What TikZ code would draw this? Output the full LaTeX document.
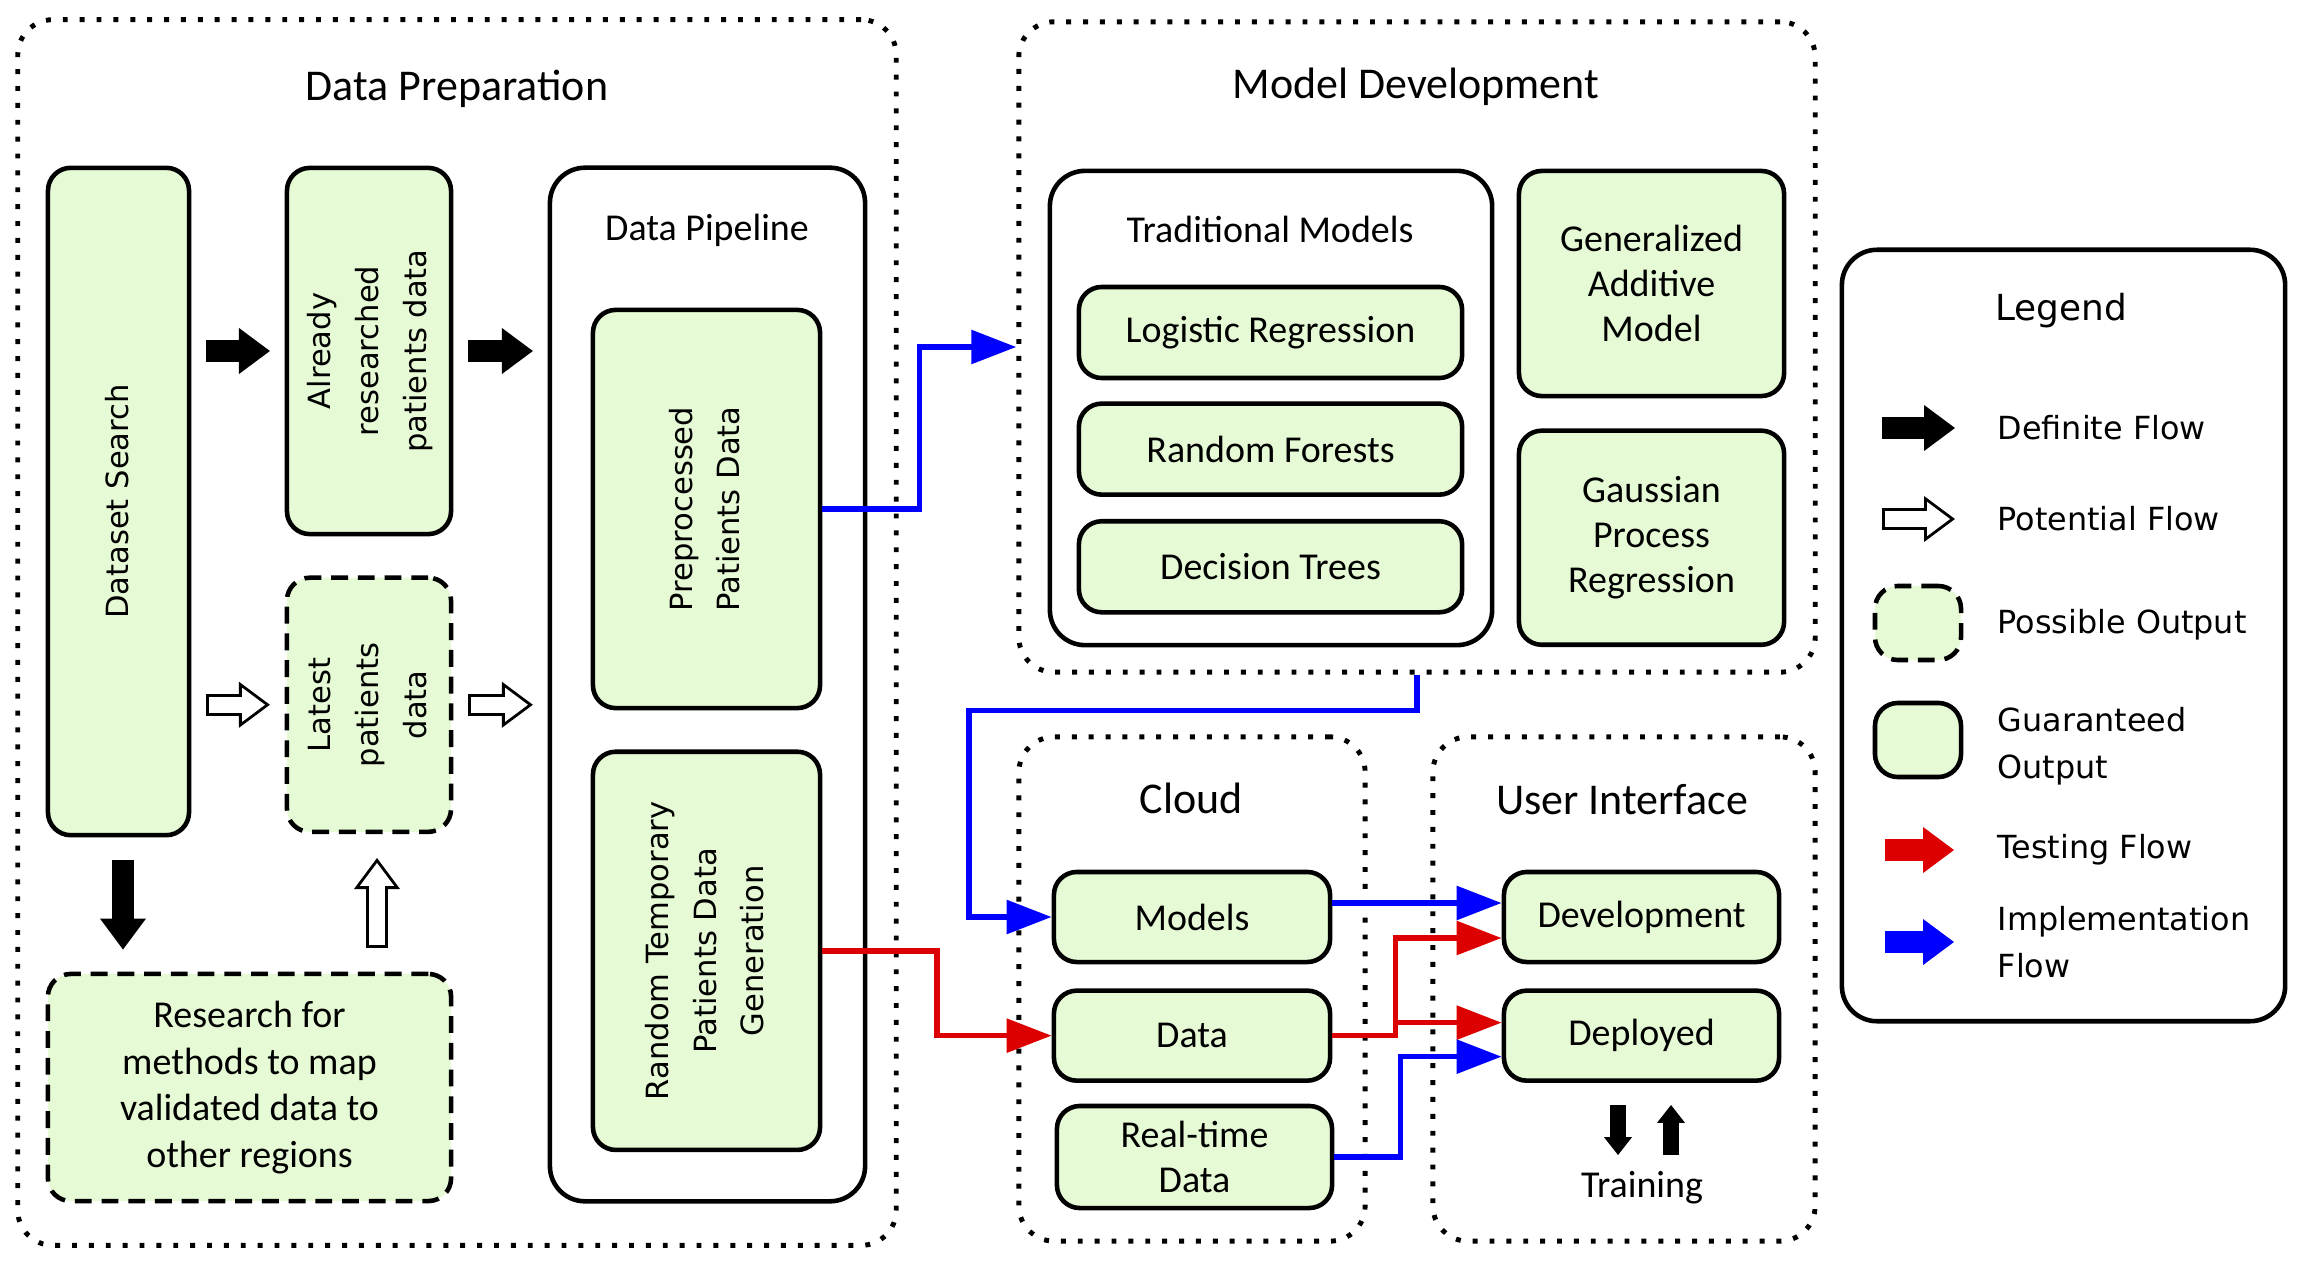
\documentclass[tikz,border=0pt]{standalone}
\usepackage{fontspec}
\setmainfont{Carlito}
\newfontfamily\legfont{DejaVu Sans}
\usetikzlibrary{arrows.meta,positioning,calc}
\definecolor{ogreen}{HTML}{E5FAD5}
\definecolor{oblue}{HTML}{0000FF}
\definecolor{ored}{HTML}{DD0000}
\newcommand\boxfont{\fontsize{10.8}{12.8}\selectfont}
\newcommand\rottext[1]{\rotatebox{90}{\legfont\fontsize{8.7}{13.6}\selectfont\begin{tabular}{@{}c@{}}#1\end{tabular}}}
\tikzset{
  gbox/.style={rounded corners=6.5pt,draw=black,line width=1.3pt,fill=ogreen,align=center,inner sep=2pt,font=\boxfont},
  pbox/.style={gbox,dash pattern=on 4.8pt off 2.8pt},
  wbox/.style={gbox,fill=white,rounded corners=10pt},
  grp/.style={rounded corners=10pt,draw=black,line width=1.4pt,dash pattern=on 1.4pt off 3.4pt},
  ttl/.style={font=\fontsize{12.5}{15}\selectfont},
  legtxt/.style={font=\legfont\fontsize{9.05}{13.4}\selectfont,anchor=west,inner sep=0pt,align=left},
  implar/.style={draw=oblue,line width=1.6pt,-{Triangle[length=12.8pt,width=9.4pt]}},
  testar/.style={implar,draw=ored},
  flowdef/.style={line width=6.3pt,-{Triangle[length=8.8pt,width=13.1pt,line width=0pt]},shorten <=#1,shorten >=#1},
  flowdef/.default=4.2pt,
  flowpot/.style={draw=white,line width=4.5pt,-{Triangle[length=6.5pt,width=9.7pt,line width=0pt]},shorten <=#1+0.85pt,shorten >=#1+1.4pt},
  flowpot/.default=4.2pt,
  trnar/.style={line width=4.3pt,-{Triangle[length=5.1pt,width=8pt,line width=0pt]}},
}
\begin{document}
\begin{tikzpicture}[x=0.01cm,y=-0.01cm,font=\boxfont]
  \useasboundingbox (0,0) rectangle (2304,1264);
  % data preparation
  \node[grp,minimum width=8.78cm,minimum height=12.25cm] (dp) at (457,632.5) {};
  \node[ttl] (dpt) at (457,89) {Data Preparation};
  \node[gbox,minimum width=1.41cm,minimum height=6.67cm] (ds) at (118.5,501.5) {\rottext{Dataset Search}};
  \node[gbox,minimum width=1.64cm,minimum height=3.66cm] (ar) at (369,351) {\rottext{Already\\researched\\patients data}};
  \node[pbox,minimum width=1.64cm,minimum height=2.54cm,below=0.39cm of ar] (lat) {\rottext{Latest\\patients\\data}};
  \node[pbox,minimum width=4.03cm,minimum height=2.27cm,font=\fontsize{10.8}{13.2}\selectfont] (res) at (249.5,1087.5) {Research for\\methods to map\\validated data to\\other regions};
  \node[wbox,minimum width=3.15cm,minimum height=10.33cm] (pipe) at (707.5,684.5) {};
  \node (pipet) at (707,230) {Data Pipeline};
  \node[gbox,minimum width=2.27cm,minimum height=3.98cm] (pre) at (706.5,509) {\rottext{Preprocessed\\Patients Data}};
  \node[gbox,minimum width=2.27cm,minimum height=3.98cm,below=0.39cm of pre] (rtp) {\rottext{Random Temporary\\Patients Data\\Generation}};
  % model development
  \node[grp,minimum width=7.96cm,minimum height=6.5cm] (md) at (1417,347) {};
  \node[ttl] (mdt) at (1416,87) {Model Development};
  \node[wbox,minimum width=4.42cm,minimum height=4.74cm] (tm) at (1271,408) {};
  \node (tmt) at (1270,229) {Traditional Models};
  \node[gbox,minimum width=3.83cm,minimum height=0.91cm] (lr) at (1270.5,332.5) {Logistic Regression};
  \node[gbox,minimum width=3.83cm,minimum height=0.91cm,below=0.21cm of lr] (rf) {Random Forests};
  \node[gbox,minimum width=3.83cm,minimum height=0.91cm,below=0.22cm of rf] (dt) {Decision Trees};
  \node[gbox,minimum width=2.65cm,minimum height=2.25cm] (gam) at (1651.5,283.5) {Generalized\\Additive\\Model};
  \node[gbox,minimum width=2.65cm,minimum height=2.14cm,below=0.3cm of gam] (gpr) {Gaussian\\Process\\Regression};
  % cloud and user interface
  \node[grp,minimum width=3.46cm,minimum height=5.04cm] (cl) at (1192,989) {};
  \node[ttl] (clt) at (1191,798) {Cloud};
  \node[grp,minimum width=3.82cm,minimum height=5.04cm] (ui) at (1624,989) {};
  \node[ttl] (uit) at (1622,800) {User Interface};
  \node[gbox,minimum width=2.76cm,minimum height=0.9cm] (mod) at (1192,917) {Models};
  \node[gbox,minimum width=2.76cm,minimum height=0.9cm,below=0.24cm of mod] (dat) {Data};
  \node[gbox,minimum width=2.75cm,minimum height=1.02cm] (rt) at (1194.5,1157) {Real-time\\Data};
  \node[gbox,minimum width=2.75cm,minimum height=0.9cm] (dev) at (1641.5,917) {Development};
  \node[gbox,minimum width=2.75cm,minimum height=0.9cm,below=0.24cm of dev] (dep) {Deployed};
  \node (trn) at (1642,1188) {Training};
  \draw[trnar] ($(trn)+(-24,-83)$) -- ($(trn)+(-24,-33)$);
  \draw[trnar] ($(trn)+(29,-33)$) -- ($(trn)+(29,-83)$);
  % legend
  \node[wbox,minimum width=4.43cm,minimum height=7.71cm] (lg) at (2063.5,635.5) {};
  \node[font=\legfont\fontsize{10.2}{12}\selectfont] (lgt) at (2061,311) {Legend};
  \node[legtxt] (l1) at (1997,428) {Definite Flow};
  \node[legtxt] (l2) at (1997,519) {Potential Flow};
  \node[legtxt] (l3) at (1997,625) {Possible Output};
  \node[legtxt] (l4) at (1997,746) {Guaranteed\\Output};
  \node[legtxt] (l5) at (1997,850) {Testing Flow};
  \node[legtxt] (l6) at (1997,942) {Implementation\\Flow};
  \node[pbox,minimum width=0.86cm,minimum height=0.74cm] (lpo) at (1918,623) {};
  \node[gbox,minimum width=0.86cm,minimum height=0.74cm] (lgo) at (1918,740) {};
  \draw[flowdef=0pt] ([xshift=-1.15cm]l1.west) -- ++(73,0);
  \draw[flowdef=0pt] ([xshift=-1.15cm]l2.west) -- ++(73,0);
  \draw[flowpot=0pt] ([xshift=-1.15cm]l2.west) -- ++(73,0);
  \draw[flowdef=0pt,draw=ored] ([xshift=-1.12cm]l5.west) -- ++(69,0);
  \draw[flowdef=0pt,draw=oblue] ([xshift=-1.12cm]l6.west) -- ++(69,0);
  % block arrows
  \draw[flowdef] (ds.east |- ar) -- (ar.west);
  \draw[flowdef] (ar.east) -- (pipe.west |- ar);
  \draw[flowdef] (ds.east |- lat) -- (lat.west);
  \draw[flowpot] (ds.east |- lat) -- (lat.west);
  \draw[flowdef] (lat.east) -- (pipe.west |- lat);
  \draw[flowpot] (lat.east) -- (pipe.west |- lat);
  \draw[flowdef=6.3pt] (ds.south -| 123,0) -- (res.north -| 123,0);
  \draw[flowdef=6.8pt] (res.north -| 377,0) -- (lat.south -| 377,0);
  \draw[flowpot=6.8pt] (res.north -| 377,0) -- (lat.south -| 377,0);
  % connectors
  \draw[implar] (pre.east) -| ($(pre.east)!.5!(md.west)$) |- (md.west);
  \draw[implar] (md.south) |- ++(-448,36) |- (mod.west);
  \draw[testar] (rtp.east) -| ($(rtp.east)!.5!(dat.west)$) |- (dat.west);
  \draw[implar] ($(mod.east)+(0,-14)$) -- ($(dev.west)+(0,-14)$);
  \coordinate (rj) at ($(dat.east)+(63,0)$);
  \coordinate (dv1) at ($(dev.west)+(0,21)$);
  \coordinate (dp1) at ($(dep.west)+(0,-13)$);
  \coordinate (dp2) at ($(dep.west)+(0,21)$);
  \draw[testar] (dat.east) -- (rj) |- (dv1);
  \draw[testar] (rj |- dp1) -- (dp1);
  \draw[implar] (rt.east) -- ++(66,0) |- (dp2);
\end{tikzpicture}
\end{document}
